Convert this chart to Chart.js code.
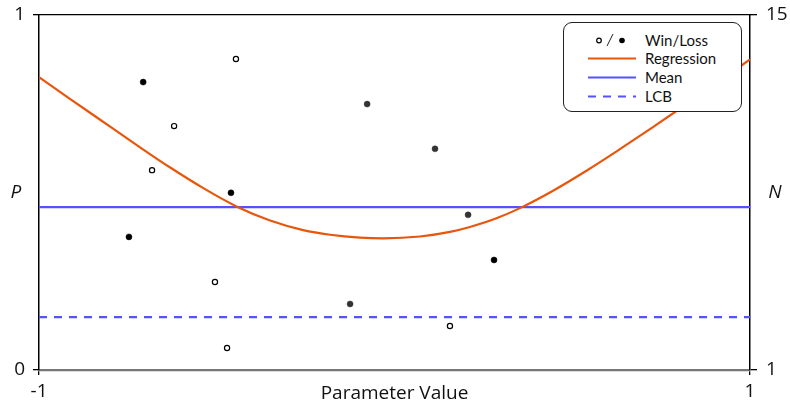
<!DOCTYPE html>
<html>
<head>
<meta charset="utf-8">
<script src="https://cdn.jsdelivr.net/npm/chart.js@4/dist/chart.umd.min.js"></script>
<style>
  html,body{margin:0;padding:0;background:#fff;}
  #wrap{position:relative;width:790px;height:403px;}
  #legend{position:absolute;left:563px;top:22px;width:179px;height:90px;box-sizing:border-box;border:1.3px solid #222;border-radius:9px;background:#fff;font-family:Lato,"Open Sans",sans-serif;font-size:15px;color:#111;}
  .row{position:absolute;left:0;height:18px;line-height:18px;}
  .sym{position:absolute;left:22px;width:50px;height:18px;}
  .txt{position:absolute;left:81px;white-space:nowrap;}
</style>
</head>
<body>
<div id="wrap">
<canvas id="c" width="790" height="403"></canvas>
<div id="legend">
  <div class="row" style="top:8px"><svg class="sym" width="50" height="18"><circle cx="13" cy="9.5" r="2.3" fill="#fff" stroke="#000" stroke-width="1.2"/><line x1="21" y1="15" x2="27" y2="3" stroke="#222" stroke-width="1"/><circle cx="36" cy="9.5" r="2.8" fill="#000"/></svg><span class="txt">Win/Loss</span></div>
  <div class="row" style="top:26px"><svg class="sym" width="50" height="18"><line x1="2" y1="9.5" x2="50" y2="9.5" stroke="#e8560c" stroke-width="2.2"/></svg><span class="txt">Regression</span></div>
  <div class="row" style="top:45px"><svg class="sym" width="50" height="18"><line x1="2" y1="9.5" x2="50" y2="9.5" stroke="#5252ff" stroke-width="2.2"/></svg><span class="txt">Mean</span></div>
  <div class="row" style="top:64px"><svg class="sym" width="50" height="18"><line x1="2" y1="9.5" x2="50" y2="9.5" stroke="#5252ff" stroke-width="2.2" stroke-dasharray="8,7"/></svg><span class="txt">LCB</span></div>
</div>
</div>
<script>
// ---- data ----
const xMin = -1, xMax = 1;
const xTickValues = [-1, 1];
const xTickLabels = ['-1', '1'];
const pTickValues = [0, 1];
const nTickValues = [1, 15];

const winX  = [-0.446, -0.620, -0.682, -0.505, -0.471, 0.156];
const winP  = [ 0.876,  0.687,  0.563,  0.248,  0.062, 0.124];
const lossX = [-0.707, -0.460, -0.747, 0.280];
const lossP = [ 0.811,  0.499,  0.375, 0.310];
const lossGrayX = [-0.077, 0.114, 0.207, -0.125];
const lossGrayP = [ 0.749, 0.623, 0.437,  0.186];

const regX = [-1.000, -0.913, -0.828, -0.730, -0.632, -0.539, -0.443, -0.350, -0.257, -0.181, -0.097, -0.032, 0.072, 0.156, 0.212, 0.283, 0.353, 0.446, 0.541, 0.634, 0.727, 0.820, 0.916, 1.000];
const regP = [ 0.825,  0.764,  0.705,  0.637,  0.571,  0.513,  0.460,  0.421,  0.394,  0.381,  0.373,  0.371, 0.376, 0.389, 0.403, 0.426, 0.456, 0.505, 0.562, 0.622, 0.684, 0.748, 0.815, 0.875];

const meanP = 0.459;
const lcbP = 0.149;

// ---- build ----
const pts = (xs, ys) => xs.map((x, i) => ({x, y: ys[i]}));
const FONT = '"Open Sans", Lato, sans-serif';

const labelsPlugin = {
  id: 'axisLabels',
  afterDraw(chart) {
    const {ctx, chartArea: a} = chart;
    ctx.save();
    ctx.fillStyle = '#111';
    ctx.textBaseline = 'middle';
    ctx.textAlign = 'center';
    ctx.font = 'italic 19px ' + FONT;
    const midY = (a.top + a.bottom) / 2;
    ctx.fillText('P', 16, midY);
    ctx.fillText('N', chart.width - 15, midY);
    ctx.font = '19px ' + FONT;
    ctx.fillText('Parameter Value', (a.left + a.right) / 2, a.bottom + 24);
    ctx.restore();
  }
};

const noPad = s => { s.paddingTop = 0; s.paddingBottom = 0; };

new Chart(document.getElementById('c'), {
  type: 'scatter',
  data: {
    datasets: [
      {label: 'Win', data: pts(winX, winP), pointRadius: 2.6, pointBackgroundColor: '#fff', pointBorderColor: '#000', pointBorderWidth: 1.2, order: 0},
      {label: 'Loss', data: pts(lossX, lossP), pointRadius: 3, pointBackgroundColor: '#000', pointBorderColor: '#000', pointBorderWidth: 0.5, order: 0},
      {label: 'Loss2', data: pts(lossGrayX, lossGrayP), pointRadius: 3, pointBackgroundColor: '#333', pointBorderColor: '#333', pointBorderWidth: 0.5, order: 0},
      {label: 'Regression', type: 'line', data: pts(regX, regP), borderColor: '#e8560c', borderWidth: 2.2, pointRadius: 0, cubicInterpolationMode: 'monotone', fill: false, order: 1},
      {label: 'Mean', type: 'line', data: [{x: xMin, y: meanP}, {x: xMax, y: meanP}], borderColor: '#5252ff', borderWidth: 2.2, pointRadius: 0, fill: false, order: 1},
      {label: 'LCB', type: 'line', data: [{x: xMin, y: lcbP}, {x: xMax, y: lcbP}], borderColor: '#5252ff', borderWidth: 2.2, borderDash: [8, 7], pointRadius: 0, fill: false, order: 1}
    ]
  },
  options: {
    responsive: false,
    animation: false,
    events: [],
    layout: {padding: 0},
    plugins: {legend: {display: false}, tooltip: {enabled: false}},
    scales: {
      x: {
        type: 'linear', position: 'bottom', min: xMin, max: xMax,
        afterBuildTicks: s => { s.ticks = xTickValues.map(v => ({value: v})); },
        afterFit: s => { s.height = 33; s.paddingLeft = 0; s.paddingRight = 0; },
        ticks: {padding: 5, color: '#111', font: {family: FONT, size: 19}, maxRotation: 0, autoSkip: false,
          callback: (v) => xTickLabels[xTickValues.indexOf(v)]},
        grid: {drawOnChartArea: false, tickLength: 5, color: '#000', lineWidth: 1.3},
        border: {color: '#777', width: 2.2}
      },
      xTop: {
        type: 'linear', position: 'top', min: xMin, max: xMax,
        afterFit: s => { s.height = 15; s.paddingLeft = 0; s.paddingRight = 0; },
        ticks: {display: false},
        grid: {display: false, drawTicks: false},
        border: {color: '#000', width: 1.2}
      },
      y: {
        type: 'linear', position: 'left', min: 0, max: 1,
        afterBuildTicks: s => { s.ticks = pTickValues.map(v => ({value: v})); },
        afterFit: s => { s.width = 39; noPad(s); },
        ticks: {padding: 8, color: '#111', font: {family: FONT, size: 19}, autoSkip: false},
        grid: {drawOnChartArea: false, tickLength: 6, color: '#000', lineWidth: 1.3},
        border: {color: '#000', width: 1.5}
      },
      y2: {
        type: 'linear', position: 'right', min: 1, max: 15,
        afterBuildTicks: s => { s.ticks = nTickValues.map(v => ({value: v})); },
        afterFit: s => { s.width = 40; noPad(s); },
        ticks: {padding: 9, color: '#111', font: {family: FONT, size: 19}, autoSkip: false},
        grid: {drawOnChartArea: false, tickLength: 7, color: '#000', lineWidth: 1.3},
        border: {color: '#000', width: 1.5}
      }
    }
  },
  plugins: [labelsPlugin]
});
</script>
</body>
</html>
